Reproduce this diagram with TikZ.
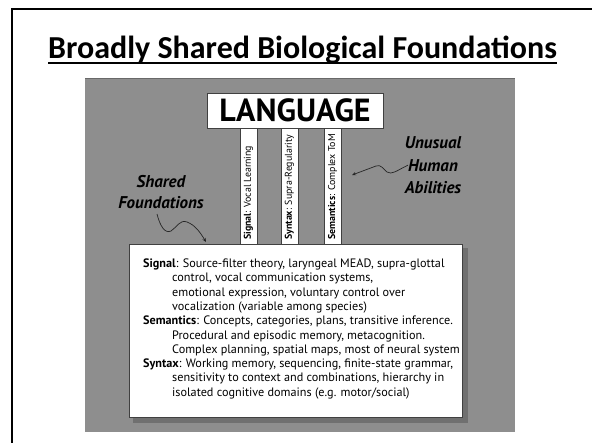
\documentclass[tikz,border=0pt]{standalone}
\usepackage{fontspec}
\setmainfont{PT Sans}
\newfontfamily\titlefont{Carlito}
\usetikzlibrary{arrows.meta}
\definecolor{slidegray}{RGB}{142,142,142}
\definecolor{edgegray}{RGB}{105,105,105}
\definecolor{shadowgray}{RGB}{112,112,112}
\tikzset{
  panel/.style={fill=white, draw=black!75, line width=0.7pt},
  bartext/.style={rotate=90, anchor=west, inner sep=0pt, font=\fontsize{9.9}{11}\selectfont},
  bodyline/.style={anchor=base west, inner sep=0pt, font=\fontsize{12.2}{13}\selectfont},
  handlabel/.style={inner sep=0pt, anchor=base, font=\fontsize{17}{20}\selectfont\bfseries\itshape},
  squiggle/.style={draw=black!85, line width=0.7pt, -{Stealth[length=4pt,width=3.5pt]}},
}
\begin{document}
\begin{tikzpicture}[x=1pt,y=-1pt]
\useasboundingbox (0,0) rectangle (592,442);
\clip (0,0) rectangle (592,442);
\fill[white] (0,0) rectangle (592,442);
% slide frame, running off the right and bottom edges
\draw[line width=2.2pt] (12,9) rectangle (640,480);

% heading
\node[anchor=base, inner sep=0pt, font=\titlefont\bfseries\fontsize{32}{34}\selectfont] (title) at (302.5,58) {Broadly Shared Biological Foundations};
\draw[line width=1.8pt] ([yshift=-5pt]title.base west) -- ([yshift=-5pt]title.base east);

% grey panel
\fill[slidegray] (85,78) rectangle (515,432);
\draw[edgegray, line width=1pt] (85,78.5) -- (515,78.5);

% LANGUAGE box and its three pillars
\node[panel, minimum width=176pt, minimum height=35pt, inner sep=0pt, font=\bfseries\fontsize{32}{33}\selectfont] (lang) at (295,110.5) {LANGUAGE};
\draw[panel] (240,128) rectangle (257,244);
\draw[panel] (281,128) rectangle (298,244);
\draw[panel] (324,128) rectangle (341,244);
\node[bartext] (p1) at (248.5,240) {\textbf{Signal}: Vocal Learning};
\node[bartext] (p2) at (289.5,240) {\textbf{Syntax}: Supra-Regularity};
\node[bartext] (p3) at (332.5,240) {\textbf{Semantics}: Complex ToM};

% foundations box with shadow
\fill[shadowgray] (133,248) rectangle (468,423);
\node[panel, anchor=north west, minimum width=333pt, minimum height=173pt, inner sep=0pt] (base) at (129,244) {};

\node[bodyline] (l1) at (143,267.5) {\textbf{Signal}: Source-filter theory, laryngeal MEAD, supra-glottal};
\node[bodyline] (l2) at (172,281.8) {control, vocal communication systems,};
\node[bodyline] (l3) at (172,296.1) {emotional expression, voluntary control over};
\node[bodyline] (l4) at (172,310.4) {vocalization (variable among species)};
\node[bodyline] (l5) at (143,324.7) {\textbf{Semantics}: Concepts, categories, plans, transitive inference.};
\node[bodyline] (l6) at (172,339) {Procedural and episodic memory, metacognition.};
\node[bodyline] (l7) at (172,353.3) {Complex planning, spatial maps, most of neural system};
\node[bodyline] (l8) at (143,367.6) {\textbf{Syntax}: Working memory, sequencing, finite-state grammar,};
\node[bodyline] (l9) at (172,381.9) {sensitivity to context and combinations, hierarchy in};
\node[bodyline] (l10) at (172,396.2) {isolated cognitive domains (e.g. motor/social)};

% hand-written style labels
\node[handlabel] (found) at (161,208) {Foundations};
\node[handlabel] (shared) at (161,187) {Shared};
\node[handlabel] (unus) at (433,148) {Unusual};
\node[handlabel] (human) at (433,171) {Human};
\node[handlabel] (abil) at (433,193) {Abilities};

% wavy pointers
\coordinate (sharedtip) at (206,242);
\coordinate (unustip) at (352,175);
\draw[squiggle] (157,214) .. controls (160,226) and (165,234) .. (171,231)
  .. controls (176,228) and (180,219) .. (187,222)
  .. controls (195,225) and (200,232) .. (sharedtip);
\draw[squiggle] (human.west) .. controls (396,171) and (392,175) .. (387,172)
  .. controls (383,169) and (381,164) .. (376,166)
  .. controls (368,169) and (360,172) .. (unustip);
\end{tikzpicture}
\end{document}
